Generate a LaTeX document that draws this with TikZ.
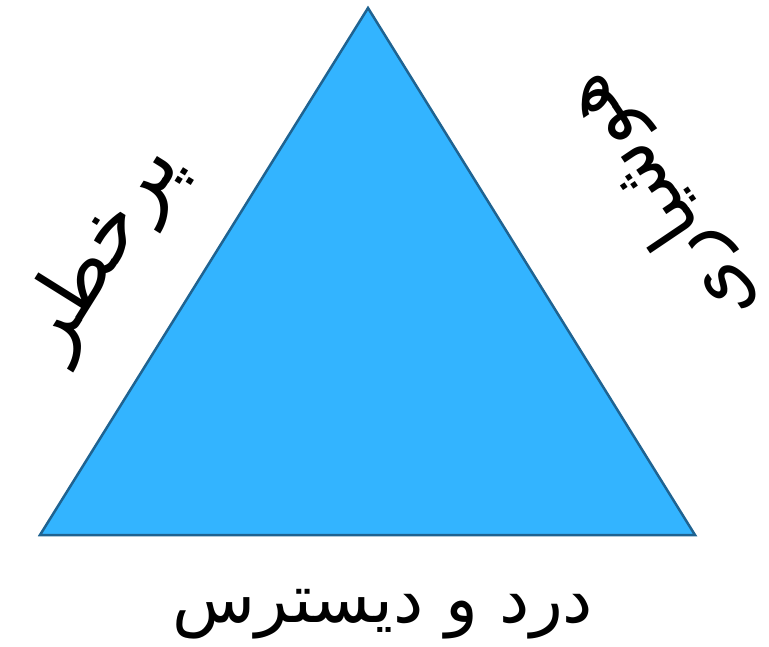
\documentclass[tikz,border=0pt]{standalone}
\usepackage{fontspec}
\newfontfamily\arabicfont[Script=Arabic]{DejaVu Sans}
\TeXXeTstate=1
\definecolor{trifill}{HTML}{33B4FF}
\definecolor{triedge}{HTML}{1F6391}
\tikzset{
  lbl/.style={font=\arabicfont\fontsize{68}{80}\selectfont, inner sep=0pt, text=black},
  sidelbl/.style={font=\arabicfont\fontsize{82}{96}\selectfont, inner sep=0pt, text=black},
  rsidelbl/.style={font=\arabicfont\fontsize{76}{90}\selectfont, inner sep=0pt, text=black},
  tri/.style={fill=trifill, draw=triedge, line width=2.5pt, line join=miter}
}
\begin{document}
\begin{tikzpicture}[x=1pt,y=-1pt]
\useasboundingbox (0,0) rectangle (769,647);
\coordinate (apex) at (368,8);
\coordinate (bl) at (40,535);
\coordinate (br) at (695,535);
\draw[tri] (apex) -- (bl) -- (br) -- cycle;
\node[lbl] (bottom) at (383,614) {\beginR درد و دیسترس\endR};
\node[sidelbl, rotate=58] (left) at (102,250) {\beginR پرخطر\endR};
\node[rsidelbl, rotate=124] (right) at (660,200) {\beginR هوشیاری\endR};
\end{tikzpicture}
\end{document}
